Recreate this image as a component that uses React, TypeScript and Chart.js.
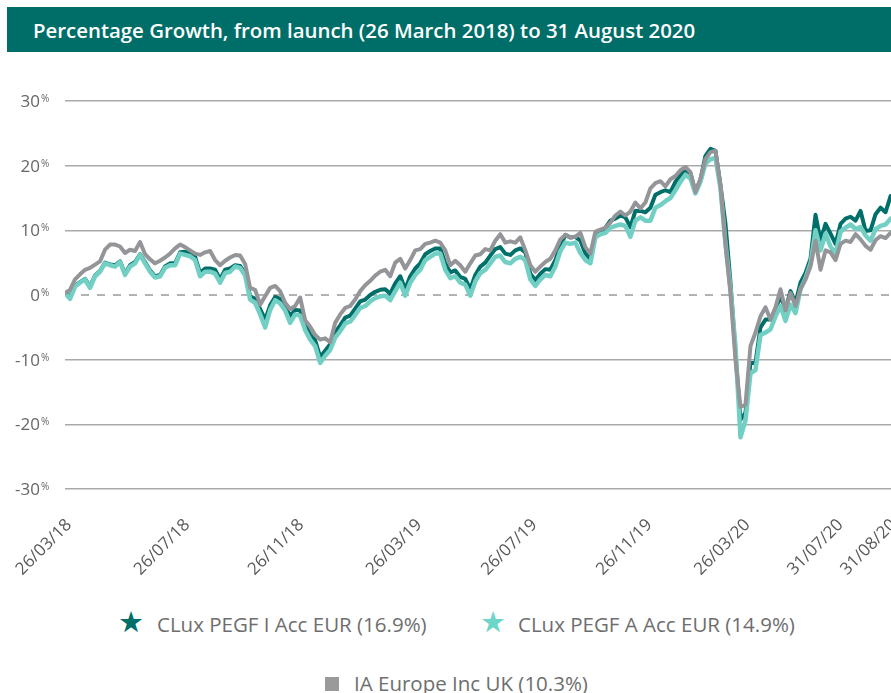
import React, { useEffect, useRef } from "react";
import { Chart, registerables } from "chart.js";

Chart.register(...registerables);

const chartTitle = "Percentage Growth, from launch (26 March 2018) to 31 August 2020";

const xTickLabels = ["26/03/18", "26/07/18", "26/11/18", "26/03/19", "26/07/19", "26/11/19", "26/03/20", "31/07/20", "31/08/20"];
const xTickIndex = [0.8, 24.4, 47.2, 70.8, 93.8, 116.8, 136.4, 155, 165.6];
const xMax = 167;
const yTickValues = [-30, -20, -10, 0, 10, 20, 30];

const seriesNames = ["CLux PEGF I Acc EUR (16.9%)", "CLux PEGF A Acc EUR (14.9%)", "IA Europe Inc UK (10.3%)"];
const seriesColors = ["#006f69", "#72cfc4", "#949598"];

const pegfI = [
  0.3, -0.3, 1.4, 2.0, 2.5, 1.3, 3.0, 3.7, 5.0, 4.7, 4.6, 5.2, 3.3, 4.6, 5.1, 6.3, 5.1, 3.8, 2.9, 3.1,
  4.4, 4.9, 4.9, 6.6, 6.7, 6.5, 5.9, 3.4, 4.1, 4.1, 3.9, 2.4, 3.9, 4.1,
  4.6, 4.5, 3.3, -0.2, -0.6, -2.2, -3.8, -1.6, -0.3, -0.6, -1.7, -3.3, -2.3, -2.4, -4.6, -6.1, -7.0, -9.6, -8.6, -7.6,
  -5.8, -4.7, -3.5, -3.2, -2.1, -1.0, -0.7, 0.0, 0.5, 0.8, 0.9, 0.2, 1.8,
  2.9, 0.9, 2.9, 4.1, 4.9, 6.3, 6.8, 7.2, 7.2, 4.9, 3.5, 3.8, 2.8, 2.5, 0.9, 3.1, 4.4, 5.0, 6.1, 7.1,
  7.4, 6.4, 6.2, 6.9, 7.2, 6.6, 3.3, 2.3, 3.3, 4.0, 3.9, 5.4, 7.6,
  9.3, 8.9, 9.0, 8.4, 6.4, 5.6, 9.3, 9.8, 10.4, 11.5, 11.8, 12.3, 12.0, 10.5, 13.0, 13.0, 12.8, 13.5, 15.5, 15.9,
  16.2, 15.9, 17.5, 18.5, 19.3, 18.8, 16.0, 17.8, 21.5, 22.6, 22.3, 17.0, 11.0,
  2.0, -8.9, -19.3, -18.2, -10.5, -10.5, -5.0, -3.8, -3.8, -2.2, -0.2, -2.2, 0.6, -1.2, 1.9, 3.4, 5.6, 12.4, 8.4, 11.0,
  9.5, 7.9, 11.0, 11.8, 12.1, 11.5, 13.0, 9.9, 10.0, 12.5, 13.5, 12.8, 15.3,
];

const pegfA = [
  0.3, -0.6, 1.3, 1.9, 2.4, 1.1, 2.9, 3.6, 4.9, 4.6, 4.4, 5.1, 3.1, 4.4, 4.9, 6.2, 4.9, 3.6, 2.7, 2.9,
  4.2, 4.6, 4.6, 6.4, 6.2, 6.0, 5.4, 2.9, 3.6, 3.6, 3.3, 1.9, 3.4, 3.6,
  4.4, 4.2, 3.0, -0.7, -1.2, -3.0, -5.0, -2.3, -0.8, -1.3, -2.4, -4.3, -3.0, -3.2, -5.4, -6.9, -7.9, -10.5, -9.4, -8.5,
  -6.6, -5.6, -4.4, -4.1, -3.1, -2.0, -1.7, -1.0, -0.5, -0.2, -0.1, -0.8, 0.6,
  1.9, -0.1, 1.9, 3.1, 3.9, 5.4, 5.9, 6.4, 6.4, 3.9, 2.6, 2.9, 1.9, 1.6, -0.1, 2.1, 3.4, 3.9, 4.9, 5.9,
  6.1, 5.1, 4.9, 5.6, 5.9, 5.4, 2.4, 1.4, 2.4, 3.1, 2.9, 4.4, 6.8,
  8.1, 7.9, 8.1, 6.5, 5.4, 4.9, 8.9, 9.4, 9.6, 10.4, 10.7, 10.9, 10.7, 9.0, 11.5, 12.0, 11.5, 11.5, 13.5, 13.9,
  14.5, 15.0, 16.2, 17.5, 18.6, 18.0, 15.7, 17.5, 20.3, 21.0, 21.2, 16.5, 8.0,
  1.0, -7.9, -22.0, -19.4, -12.1, -11.6, -6.2, -5.8, -5.3, -3.3, -1.7, -4.0, -1.5, -2.8, 0.9, 2.6, 4.9, 10.0, 6.9, 9.5,
  7.5, 6.4, 9.8, 10.4, 10.9, 10.2, 10.5, 9.2, 8.4, 10.2, 10.7, 10.9, 11.8,
];

const iaEurope = [
  0.3, 0.8, 2.4, 3.2, 3.9, 4.2, 4.7, 5.2, 7.0, 7.8, 7.8, 7.5, 6.5, 7.0, 6.8, 8.2, 6.3, 5.5, 4.9, 5.3,
  5.8, 6.4, 7.2, 7.8, 7.4, 6.9, 6.4, 6.2, 6.6, 6.8, 5.4, 4.6, 5.3, 5.8,
  6.2, 6.1, 4.8, 1.1, 0.8, -1.5, -0.2, 1.1, 1.4, 0.6, -1.2, -2.2, -1.7, -0.4, -3.9, -4.9, -6.2, -6.9, -6.7, -7.3,
  -4.3, -3.0, -2.0, -1.7, -0.7, 0.6, 1.5, 2.2, 3.0, 3.6, 3.9, 2.9, 5.0,
  5.6, 4.1, 5.4, 6.9, 7.1, 7.9, 8.1, 8.4, 8.1, 6.9, 4.6, 5.3, 4.6, 3.6, 4.9, 6.1, 6.3, 7.1, 6.9, 8.4,
  9.4, 8.1, 8.3, 8.1, 8.9, 6.9, 4.6, 3.6, 4.4, 5.1, 5.6, 6.9, 8.6,
  9.3, 8.9, 9.0, 9.6, 7.4, 6.4, 9.8, 10.1, 10.4, 11.2, 12.3, 12.9, 12.3, 12.9, 14.3, 13.4, 14.3, 16.5, 17.3, 17.6,
  16.8, 17.9, 18.4, 19.3, 19.8, 19.0, 15.9, 18.0, 21.0, 22.1, 22.3, 17.0, 7.8,
  0.3, -10.0, -17.3, -17.0, -7.9, -5.8, -3.3, -1.9, -3.8, -1.9, 0.9, -2.4, 0.3, -1.7, 0.9, 2.4, 4.4, 8.4, 3.9, 6.9,
  6.6, 5.4, 7.9, 8.4, 8.2, 9.4, 8.6, 7.6, 7.0, 8.5, 9.1, 8.8, 9.6,
];

const toPoints = (arr: number[]) => arr.map((v, i) => ({ x: i, y: v }));

const yLabelPlugin = {
  id: "yPercentLabels",
  afterDraw(chart: any) {
    const { ctx } = chart;
    const y = chart.scales.y;
    ctx.save();
    ctx.fillStyle = "#666666";
    yTickValues.forEach((v) => {
      const py = y.getPixelForValue(v);
      ctx.font = '17px "Open Sans"';
      ctx.textAlign = "right";
      ctx.textBaseline = "alphabetic";
      ctx.fillText(String(v), 40, py + 6);
      ctx.font = '10px "Open Sans"';
      ctx.textAlign = "left";
      ctx.fillText("%", 41, py + 1);
    });
    ctx.restore();
  },
};

export default function App() {
  const canvasRef = useRef<HTMLCanvasElement | null>(null);

  useEffect(() => {
    if (!canvasRef.current) return;
    const chart = new Chart(canvasRef.current, {
      type: "line",
      data: {
        datasets: [
          {
            label: seriesNames[2],
            data: toPoints(iaEurope),
            borderColor: seriesColors[2],
            borderWidth: 4,
            pointRadius: 0,
            tension: 0,
            borderJoinStyle: "round",
            borderCapStyle: "round",
            order: 1,
          },
          {
            label: seriesNames[1],
            data: toPoints(pegfA),
            borderColor: seriesColors[1],
            borderWidth: 4.5,
            pointRadius: 0,
            tension: 0,
            borderJoinStyle: "round",
            borderCapStyle: "round",
            order: 2,
          },
          {
            label: seriesNames[0],
            data: toPoints(pegfI),
            borderColor: seriesColors[0],
            borderWidth: 4,
            pointRadius: 0,
            tension: 0,
            borderJoinStyle: "round",
            borderCapStyle: "round",
            order: 3,
          },
          {
            label: "zero",
            data: [
              { x: 0, y: 0 },
              { x: xMax, y: 0 },
            ],
            borderColor: "#9a9a9a",
            borderWidth: 1.5,
            borderDash: [8, 8],
            pointRadius: 0,
            order: 4,
          },
        ],
      },
      options: {
        animation: false,
        responsive: false,
        maintainAspectRatio: false,
        layout: { padding: { top: 41, left: 0, right: 0, bottom: 0 } },
        plugins: {
          legend: { display: false },
          tooltip: { enabled: false },
          title: { display: false },
        },
        scales: {
          x: {
            type: "linear",
            min: 0,
            max: xMax,
            afterBuildTicks: (s: any) => {
              s.ticks = xTickIndex.map((v) => ({ value: v }));
            },
            afterFit: (s: any) => {
              s.height = 111;
            },
            grid: { display: false, drawTicks: true, tickLength: 23 },
            border: { display: false },
            ticks: {
              autoSkip: false,
              maxRotation: 45,
              minRotation: 45,
              padding: 3,
              color: "#595959",
              font: { family: "Open Sans", size: 17 },
              callback: (_v: any, idx: number) => xTickLabels[idx],
            },
          },
          y: {
            min: -30,
            max: 30,
            afterBuildTicks: (s: any) => {
              s.ticks = yTickValues.map((v) => ({ value: v }));
            },
            afterFit: (s: any) => {
              s.width = 65;
            },
            border: { display: false },
            grid: {
              drawTicks: false,
              lineWidth: 1.5,
              color: (ctx: any) => (ctx.tick && ctx.tick.value === 0 ? "rgba(0,0,0,0)" : "#a9a9a9"),
            },
            ticks: { display: false },
          },
        },
      },
      plugins: [yLabelPlugin],
    });
    return () => chart.destroy();
  }, []);

  const legendText: React.CSSProperties = {
    position: "absolute",
    fontFamily: '"Open Sans", sans-serif',
    fontSize: "20.5px",
    lineHeight: "20px",
    color: "#6e6e6e",
    whiteSpace: "nowrap",
  };
  const starStyle: React.CSSProperties = {
    position: "absolute",
    fontFamily: '"DejaVu Sans", sans-serif',
    fontSize: "29px",
    lineHeight: "29px",
  };

  return (
    <div
      style={{
        position: "absolute",
        left: 0,
        top: 0,
        width: 891,
        height: 693,
        overflow: "hidden",
        background: "#ffffff",
      }}
    >
      <div
        style={{
          position: "absolute",
          left: 7,
          top: 7,
          width: 884,
          height: 45,
          background: "#006e68",
          display: "flex",
          alignItems: "center",
          boxSizing: "border-box",
          paddingLeft: 26,
          color: "#ffffff",
          fontFamily: '"Open Sans", sans-serif',
          fontWeight: 600,
          fontSize: "20.4px",
          whiteSpace: "nowrap",
        }}
      >
        {chartTitle}
      </div>
      <canvas
        ref={canvasRef}
        width={911}
        height={540}
        style={{ position: "absolute", left: 0, top: 60, width: 911, height: 540 }}
      />
      <span style={{ ...starStyle, left: 118, top: 608, color: seriesColors[0] }}>★</span>
      <span style={{ ...legendText, left: 157, top: 614 }}>{seriesNames[0]}</span>
      <span style={{ ...starStyle, left: 480, top: 608, color: "#6dd6c8" }}>★</span>
      <span style={{ ...legendText, left: 518, top: 614 }}>{seriesNames[1]}</span>
      <span
        style={{
          position: "absolute",
          left: 325,
          top: 677,
          width: 14,
          height: 14,
          background: "#9a9a9a",
        }}
      />
      <span style={{ ...legendText, left: 354, top: 673 }}>{seriesNames[2]}</span>
    </div>
  );
}
